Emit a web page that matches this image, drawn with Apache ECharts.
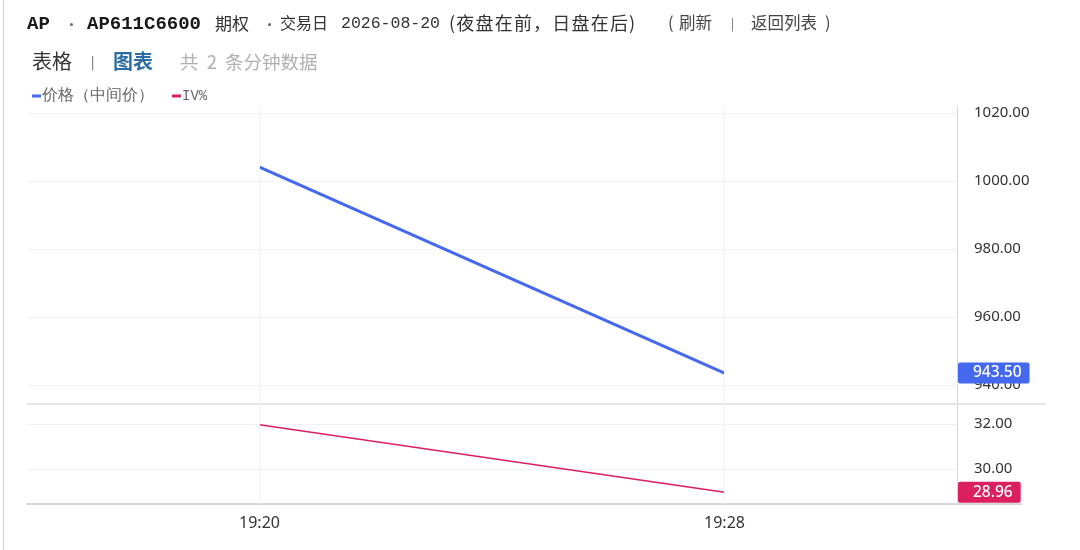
<!DOCTYPE html>
<html>
<head>
<meta charset="utf-8">
<script src="https://cdn.jsdelivr.net/npm/echarts@6/dist/echarts.min.js"></script>
<style>
  html, body { margin: 0; padding: 0; background: #fff; }
  body { width: 1080px; height: 550px; position: relative; overflow: hidden;
         font-family: "Noto Sans CJK SC", "Noto Sans", sans-serif; }
  .border { position: absolute; left: 3px; top: 0; width: 1px; height: 550px; background: #cfcfcf; }
  .t { position: absolute; white-space: nowrap; line-height: 1; }
  .mono { font-family: "Liberation Mono", "DejaVu Sans Mono", monospace; }
  .b { font-weight: bold; }
  .dot { position: absolute; width: 3px; height: 3px; border-radius: 50%; background: #666; }
  #chart { position: absolute; left: 0; top: 0; width: 1080px; height: 550px; }
</style>
</head>
<body>
<div class="border"></div>
<div id="chart"></div>

<span class="t mono b" style="left:27px;top:15px;font-size:19px;color:#1a1a1a">AP</span>
<span class="dot" style="left:70px;top:23px"></span>
<span class="t mono b" style="left:87px;top:15px;font-size:19px;color:#1a1a1a">AP611C6600</span>
<span class="t" style="left:215px;top:14px;font-size:17px;color:#333">期权</span>
<span class="dot" style="left:268px;top:23px"></span>
<span class="t" style="left:280px;top:14px;font-size:16px;color:#333">交易日</span>
<span class="t mono" style="left:341px;top:16px;font-size:16.5px;color:#333">2026-08-20</span>
<span class="t" style="left:449px;top:13px;font-size:18px;color:#333;letter-spacing:1.2px">(夜盘在前，日盘在后)</span>
<span class="t" style="left:668px;top:14px;font-size:16.5px;color:#444">(</span>
<span class="t" style="left:679px;top:14px;font-size:16.5px;color:#444">刷新</span>
<span class="t" style="left:731px;top:17px;font-size:12px;color:#666">|</span>
<span class="t" style="left:751px;top:14px;font-size:16.5px;color:#444">返回列表</span>
<span class="t" style="left:825px;top:14px;font-size:16.5px;color:#444">)</span>

<span class="t" style="left:32px;top:51px;font-size:20px;color:#333">表格</span>
<span class="t" style="left:91px;top:55px;font-size:13px;color:#555">|</span>
<span class="t b" style="left:113px;top:51px;font-size:20px;color:#2e6da4">图表</span>
<span class="t" style="left:180px;top:52px;font-size:18.5px;color:#b0b0b0;word-spacing:4px">共 2 条分钟数据</span>

<script>
// minutes since midnight for each sample
var times = [1160, 1168];
var timeLabels = ['19:20', '19:28'];
var priceMid = [1004.0, 943.5];
var ivPct = [31.97, 28.96];

var BLUE = '#4468ee';
var PINK = '#dc1f5e';

function fmtTime(v) {
  var i = times.indexOf(v);
  return i >= 0 ? timeLabels[i] : '';
}

function lastLabel(color) {
  return {
    show: true,
    position: 'end',
    distance: 1,
    formatter: function (p) { return Number(p.value).toFixed(2); },
    color: '#fff',
    backgroundColor: color,
    fontSize: 15.5,
    fontWeight: 500,
    fontFamily: 'Noto Sans',
    padding: [3, 8, 2, 15],
    borderRadius: 2
  };
}

var chart = echarts.init(document.getElementById('chart'));

var yLabel = {
  margin: 17,
  color: '#333',
  fontSize: 15,
  fontFamily: 'Noto Sans',
  showMinLabel: false,
  showMaxLabel: false,
  formatter: function (v) { return v.toFixed(2); }
};
var ySplit = { show: true, showMinLine: false, showMaxLine: false, lineStyle: { color: '#f1f2f4', width: 1 } };

var option = {
  animation: false,
  legend: {
    left: 27,
    top: 83,
    itemGap: 18,
    itemWidth: 9,
    itemHeight: 3,
    textStyle: { fontSize: 16, color: '#666', padding: [0, 0, 0, -4] },
    data: [
      { name: '价格（中间价）', icon: 'rect', itemStyle: { color: BLUE } },
      { name: 'IV%', icon: 'rect', itemStyle: { color: PINK },
        textStyle: { fontFamily: 'Liberation Mono', fontSize: 14, color: '#666' } }
    ]
  },
  grid: [
    { left: 27, right: 123, top: 106, height: 298 },
    { left: 27, right: 123, top: 404, height: 100 }
  ],
  xAxis: [
    { type: 'value', gridIndex: 0, min: 1156, max: 1172, interval: 4,
      axisLine: { show: false }, axisTick: { show: false },
      axisLabel: { show: false }, splitLine: { show: false } },
    { type: 'value', gridIndex: 1, min: 1156, max: 1172, interval: 4,
      axisLine: { show: true, onZero: false, lineStyle: { color: '#d8d8d8', width: 2 } },
      axisTick: { show: false }, splitLine: { show: false },
      axisLabel: { show: true, margin: 11, color: '#333', fontSize: 16, fontFamily: 'Noto Sans',
        formatter: fmtTime } }
  ],
  yAxis: [
    { type: 'value', gridIndex: 0, position: 'right', min: 934.4, max: 1022, splitNumber: 4,
      axisLine: { show: true, lineStyle: { color: '#d8d8d8' } }, axisTick: { show: false },
      axisLabel: yLabel, splitLine: ySplit },
    { type: 'value', gridIndex: 1, position: 'right', min: 28.44, max: 32.89, splitNumber: 2,
      axisLine: { show: true, lineStyle: { color: '#d8d8d8' } }, axisTick: { show: false },
      axisLabel: yLabel, splitLine: ySplit }
  ],
  graphic: [
    { type: 'line', shape: { x1: 27, y1: 404, x2: 1046, y2: 404 }, z: 5,
      style: { stroke: '#e6e6e6', lineWidth: 2 } },
    { type: 'line', shape: { x1: 957, y1: 504, x2: 1022, y2: 504 }, z: 5,
      style: { stroke: '#d8d8d8', lineWidth: 2 } }
  ],
  series: [
    {
      name: '价格（中间价）', type: 'line', xAxisIndex: 0, yAxisIndex: 0,
      data: times.map(function (t, i) { return [t, priceMid[i]]; }),
      symbol: 'none', lineStyle: { color: BLUE, width: 3 }, itemStyle: { color: BLUE },
      markLine: {
        silent: true, symbol: 'none', animation: false,
        lineStyle: { color: 'rgba(0,0,0,0)', width: 0 },
        label: lastLabel(BLUE),
        data: [{ yAxis: priceMid[priceMid.length - 1] }]
      }
    },
    {
      name: 'IV%', type: 'line', xAxisIndex: 1, yAxisIndex: 1,
      data: times.map(function (t, i) { return [t, ivPct[i]]; }),
      symbol: 'none', lineStyle: { color: PINK, width: 1.6 }, itemStyle: { color: PINK },
      markLine: {
        silent: true, symbol: 'none', animation: false,
        lineStyle: { color: 'rgba(0,0,0,0)', width: 0 },
        label: lastLabel(PINK),
        data: [{ yAxis: ivPct[ivPct.length - 1] }]
      }
    },
    {
      // vertical time grid lines at each sample, upper pane
      type: 'line', xAxisIndex: 0, yAxisIndex: 0, data: [], silent: true,
      markLine: {
        silent: true, symbol: 'none', animation: false, label: { show: false },
        lineStyle: { color: '#f1f2f4', width: 1, type: 'solid' },
        data: times.map(function (t) { return { xAxis: t }; })
      }
    },
    {
      type: 'line', xAxisIndex: 1, yAxisIndex: 1, data: [], silent: true,
      markLine: {
        silent: true, symbol: 'none', animation: false, label: { show: false },
        lineStyle: { color: '#f1f2f4', width: 1, type: 'solid' },
        data: times.map(function (t) { return { xAxis: t }; })
      }
    }
  ]
};
chart.setOption(option);
</script>
</body>
</html>
